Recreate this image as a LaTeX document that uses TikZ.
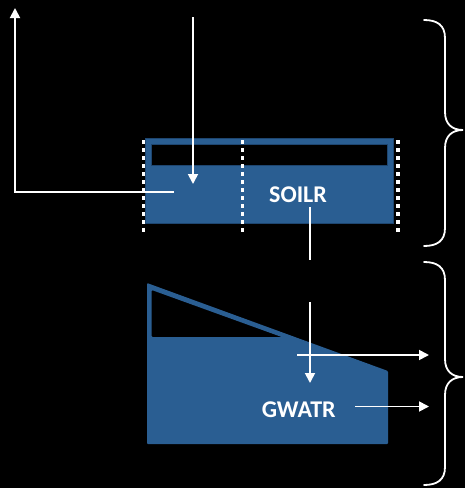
\documentclass[tikz,border=0pt]{standalone}
\usepackage{fontspec}
\setmainfont{Carlito}
\usetikzlibrary{arrows.meta}
\definecolor{boxblue}{HTML}{2A5E92}
\definecolor{edgeblue}{HTML}{1E4670}
\begin{document}
\begin{tikzpicture}[x=1pt,y=-1pt,
  flow/.style={draw=white,line width=1.8pt,-{Triangle[length=10pt,width=10pt]}},
  plain/.style={draw=white,line width=1.8pt},
  brace/.style={draw=white,line width=1.8pt,line cap=round},
  divider/.style={draw=white,line width=3.5pt,dash pattern=on 4pt off 4pt},
  lbl/.style={text=white,inner sep=0pt,font=\fontsize{24}{28}\selectfont\bfseries}]
\fill[black] (0,0) rectangle (465,488);
\useasboundingbox (0,0) rectangle (465,488);
% SOILR store
\fill[boxblue,draw=edgeblue,line width=0.8pt] (145,138) rectangle (393,223);
\fill[black,draw=edgeblue,line width=0.8pt] (151,144) rectangle (387,165);
\draw[divider] (143.5,140) -- (143.5,234);
\draw[divider] (242.5,140) -- (242.5,234);
\draw[divider] (398,140) -- (398,234);
% GWATR store
\fill[boxblue,even odd rule,rounded corners=1pt] (147,283) -- (388,371) -- (388,444) -- (147,444) -- cycle
  (151.7,290) -- (281.7,337) -- (151.7,337) -- cycle;
% labels
\node[lbl] (soilr) at (298,195) {SOILR};
\node[lbl] (gwatr) at (298.7,410) {GWATR};
% connectors
\coordinate (lstart) at (174,192);
\coordinate (lcorner) at (15,192);
\coordinate (ltop) at (15,8);
\draw[flow] (lstart) -- (lcorner) -- (ltop);
\coordinate (rainA) at (193,17);
\coordinate (rainB) at (193,184);
\draw[flow] (rainA) -- (rainB);
\coordinate (percA) at (310,207);
\coordinate (percB) at (310,260);
\draw[plain] (percA) -- (percB);
\coordinate (rechA) at (310,302);
\coordinate (rechB) at (310,383);
\draw[flow] (rechA) -- (rechB);
\coordinate (q1A) at (297,355);
\coordinate (q1B) at (429,355);
\draw[flow] (q1A) -- (q1B);
\coordinate (q2A) at (355,406.5);
\coordinate (q2B) at (429,406.5);
\draw[flow] (q2A) -- (q2B);
% braces
\draw[brace] (424,20) .. controls (437,20) and (445,25) .. (445,38) -- (445,112)
  .. controls (445,124) and (452,130) .. (463,130)
  .. controls (452,130) and (445,136) .. (445,148) -- (445,228)
  .. controls (445,241) and (437,246) .. (424,246);
\draw[brace] (424,262) .. controls (437,262) and (445,267) .. (445,280) -- (445,359)
  .. controls (445,371) and (452,377) .. (463,377)
  .. controls (452,377) and (445,383) .. (445,395) -- (445,467)
  .. controls (445,480) and (437,485) .. (424,485);
\end{tikzpicture}
\end{document}
